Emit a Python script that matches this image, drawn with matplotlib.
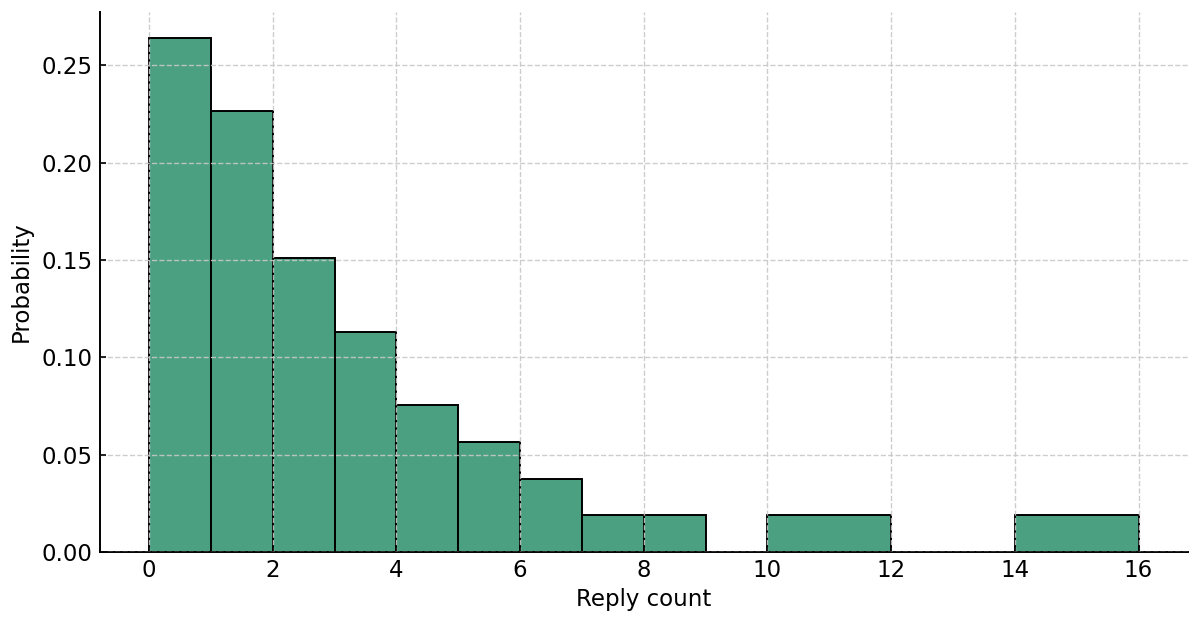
import matplotlib
matplotlib.use("Agg")
import matplotlib.pyplot as plt
import numpy as np

bin_edges = [0, 1, 2, 3, 4, 5, 6, 7, 8, 9, 10, 12, 14, 16]
probabilities = [0.2642, 0.2264, 0.1509, 0.1132, 0.0755, 0.0566, 0.0377,
                 0.0189, 0.0189, 0.0, 0.0189, 0.0, 0.0189]
x_ticks = [0, 2, 4, 6, 8, 10, 12, 14, 16]
y_ticks = [0.00, 0.05, 0.10, 0.15, 0.20, 0.25]

fig = plt.figure(figsize=(12, 6.26), dpi=100)
ax = fig.add_axes([0.083, 0.118, 0.907, 0.863])

edges = np.array(bin_edges, dtype=float)
heights = np.array(probabilities)
mask = heights > 0
ax.bar(edges[:-1][mask], heights[mask], width=np.diff(edges)[mask], align="edge",
       color="#4aa081", edgecolor="black", linewidth=1.4, zorder=1)

ax.set_axisbelow(False)
ax.grid(True, linestyle="--", color="#c8c8c8", linewidth=1.0, alpha=0.9, zorder=3)
ax.set_xticks(x_ticks)
ax.set_yticks(y_ticks)
ax.set_yticklabels([f"{v:.2f}" for v in y_ticks])
ax.tick_params(direction="in", labelsize=16.5, width=1.2, length=4, pad=5)
ax.set_xlabel("Reply count", fontsize=16.5, labelpad=4)
ax.set_ylabel("Probability", fontsize=16.5, labelpad=6)
for s in ["top", "right"]:
    ax.spines[s].set_visible(False)
for s in ["left", "bottom"]:
    ax.spines[s].set_linewidth(1.4)

fig.savefig("out.png", dpi=100)
